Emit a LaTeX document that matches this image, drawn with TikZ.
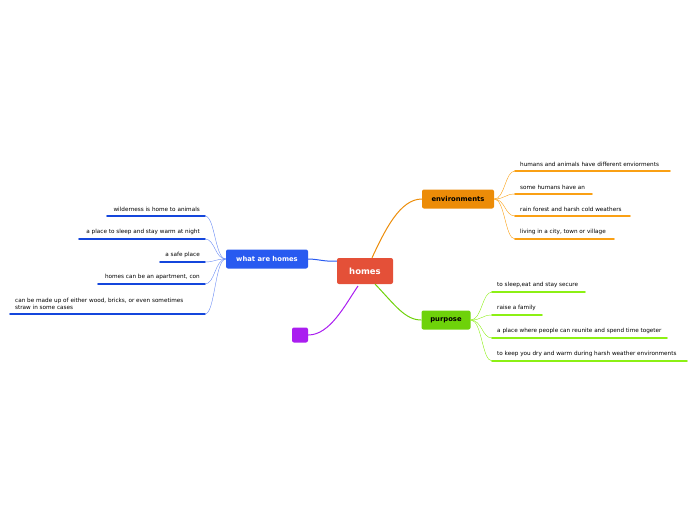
\documentclass[tikz,border=0pt]{standalone}
\usepackage{fontspec}
\setmainfont{DejaVu Sans}
\usetikzlibrary{positioning}
\definecolor{hred}{RGB}{228,80,56}
\definecolor{horange}{RGB}{236,140,8}
\definecolor{lorange}{RGB}{250,160,20}
\definecolor{hgreen}{RGB}{110,210,10}
\definecolor{lgreen}{RGB}{140,240,20}
\definecolor{hblue}{RGB}{40,90,240}
\definecolor{lblue}{RGB}{20,70,220}
\definecolor{hpurple}{RGB}{170,30,240}
\begin{document}
\begin{tikzpicture}[x=1pt,y=-1pt,
        topic/.style={rectangle,rounded corners=2pt,inner sep=0pt,font=\fontsize{6.8}{7}\selectfont\bfseries},
        leaf/.style={inner sep=0pt,font=\fontsize{5.7}{6.8}\selectfont},
        uline/.style={line width=1.6pt,line cap=round},
        branch/.style={line width=1pt},
        twig/.style={line width=0.4pt}]
  \useasboundingbox (0,0) rectangle (696,520);

  \node [topic,fill=hred,text=white,minimum width=56pt,minimum height=26pt,font=\fontsize{8.5}{9}\selectfont\bfseries] (home) at (365,271) {homes};
  \node [topic,fill=horange,minimum width=72pt,minimum height=19pt] (env) at (458,199) {environments};
  \node [topic,fill=hgreen,minimum width=49pt,minimum height=19pt] (pur) at (446,320) {purpose};
  \node [topic,fill=hblue,text=white,minimum width=82pt,minimum height=19pt] (what) at (267,259) {what are homes};
  \node [topic,fill=hpurple,minimum width=16pt,minimum height=15pt] (blank) at (300,335) {};

  \draw [branch,horange] (home.north) ++(7,0) coordinate (h1) .. controls (385,230) and (400,199) .. (env.west);
  \draw [branch,hgreen] (375,284) .. controls (395,305) and (405,320) .. (pur.west);
  \draw [branch,hblue] (home.west) ++(0,-10) coordinate (h3) .. controls (325,262) and (318,259) .. (what.east);
  \draw [branch,hpurple] (358,286) .. controls (345,305) and (330,335) .. (blank.east);

  % environments
  \foreach \y/\x/\t [count=\i] in {171/670/humans and animals have different enviorments,
      194/592/some humans have an,216/630/rain forest and harsh cold weathers,
      239/614/living in a city{,} town or village} {
    \coordinate (e\i a) at (515,\y);
    \coordinate (e\i b) at (\x,\y);
    \node [leaf,anchor=south west] (e\i) at (520,\y-4) {\t};
    \draw [uline,lorange] (e\i a) -- (e\i b);
    \draw [twig,lorange] (env.east) .. controls (505,199) and (505,\y) .. (e\i a);
  }

  % purpose
  \foreach \y/\x/\t [count=\i] in {292/585/{to sleep,eat and stay secure},315/542/raise a family,
      338/667/a place where people can reunite and spend time togeter,
      361/687/to keep you dry and warm during harsh weather environments} {
    \coordinate (p\i a) at (492,\y);
    \coordinate (p\i b) at (\x,\y);
    \node [leaf,anchor=south west] (p\i) at (497,\y-4) {\t};
    \draw [uline,lgreen] (p\i a) -- (p\i b);
    \draw [twig,lgreen] (pur.east) .. controls (482,320) and (482,\y) .. (p\i a);
  }

  % what are homes
  \foreach \y/\x/\t [count=\i] in {216/107/wilderness is home to animals,
      239/79/a place to sleep and stay warm at night,262/160/a safe place,
      284/98/{homes can be an apartment, con}} {
    \coordinate (w\i a) at (205,\y);
    \coordinate (w\i b) at (\x,\y);
    \node [leaf,anchor=south east] (w\i) at (200,\y-4) {\t};
    \draw [uline,lblue] (w\i a) -- (w\i b);
    \draw [twig,hblue!70] (what.west) .. controls (215,259) and (215,\y) .. (w\i a);
  }
  \coordinate (w5a) at (205,314);
  \coordinate (w5b) at (10,314);
  \node [leaf,anchor=south west,align=left] (w5) at (15,310) {can be made up of either wood, bricks, or even sometimes\\straw in some cases};
  \draw [uline,lblue] (w5a) -- (w5b);
  \draw [twig,hblue!70] (what.west) .. controls (215,259) and (215,314) .. (w5a);
\end{tikzpicture}
\end{document}
